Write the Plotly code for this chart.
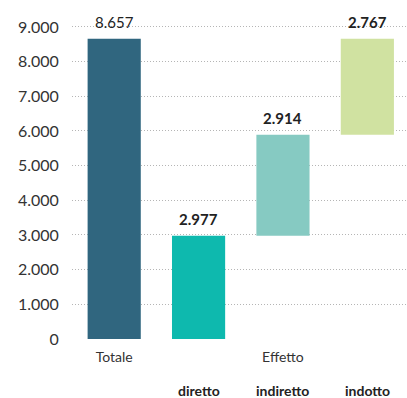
import plotly.graph_objects as go

categories = ["Totale", "diretto", "indiretto", "indotto"]
tick_labels = ["Totale", "", "Effetto", ""]
sub_labels = ["", "diretto", "indiretto", "indotto"]
values = [8657, 2977, 2914, 2767]
bases = [0, 0, 2977, 5891]
colors = ["#30667F", "#0EB9AE", "#86CAC2", "#D0E2A1"]
y_ticks = [0, 1000, 2000, 3000, 4000, 5000, 6000, 7000, 8000, 9000]

def fmt(v):
    return f"{v:,}".replace(",", ".")

texts = [fmt(values[0])] + [f"<b>{fmt(v)}</b>" for v in values[1:]]

fig = go.Figure(go.Bar(
    x=categories, y=values, base=bases,
    marker=dict(color=colors, line=dict(width=0)),
    width=0.63,
    hoverinfo="skip",
))

for c, v, b, t in zip(categories, values, bases, texts):
    fig.add_annotation(
        x=c, y=b + v, text=t, showarrow=False,
        yanchor="bottom", yshift=6,
        font=dict(size=15, color="#222", family="Lato"),
    )

# second row of category labels (bold), plot area spans 20..339 px
for c, s in zip(categories, sub_labels):
    if s:
        fig.add_annotation(
            x=c, xref="x", y=-(390 - 339) / 319, yref="paper",
            text=f"<b>{s}</b>", showarrow=False, yanchor="middle",
            borderpad=0, font=dict(size=14, color="#222", family="Lato"),
        )

fig.update_layout(
    width=407, height=398,
    margin=dict(l=72, r=0, t=20, b=59),
    plot_bgcolor="white", paper_bgcolor="white",
    showlegend=False,
    font=dict(family="Lato", color="#333"),
    xaxis=dict(
        tickmode="array", tickvals=categories, ticktext=tick_labels,
        tickfont=dict(size=14, color="#333"),
        showgrid=False, showline=False, zeroline=False,
        range=[-0.5, 3.47], ticks="", automargin=False,
        ticklabelstandoff=8,
    ),
    yaxis=dict(
        range=[0, 9200], tickvals=y_ticks,
        ticktext=[fmt(v) for v in y_ticks],
        tickfont=dict(size=16, color="#333"),
        showgrid=True, gridcolor="#b5b5b5", griddash="1px,2px", gridwidth=1,
        zeroline=False, showline=False, automargin=False,
        ticks="outside", ticklen=9, tickcolor="rgba(0,0,0,0)",
    ),
)

fig.write_html(
    "out.html",
    config={"displayModeBar": False},
    post_script="document.body.style.margin='0';document.body.style.overflow='hidden';",
)
